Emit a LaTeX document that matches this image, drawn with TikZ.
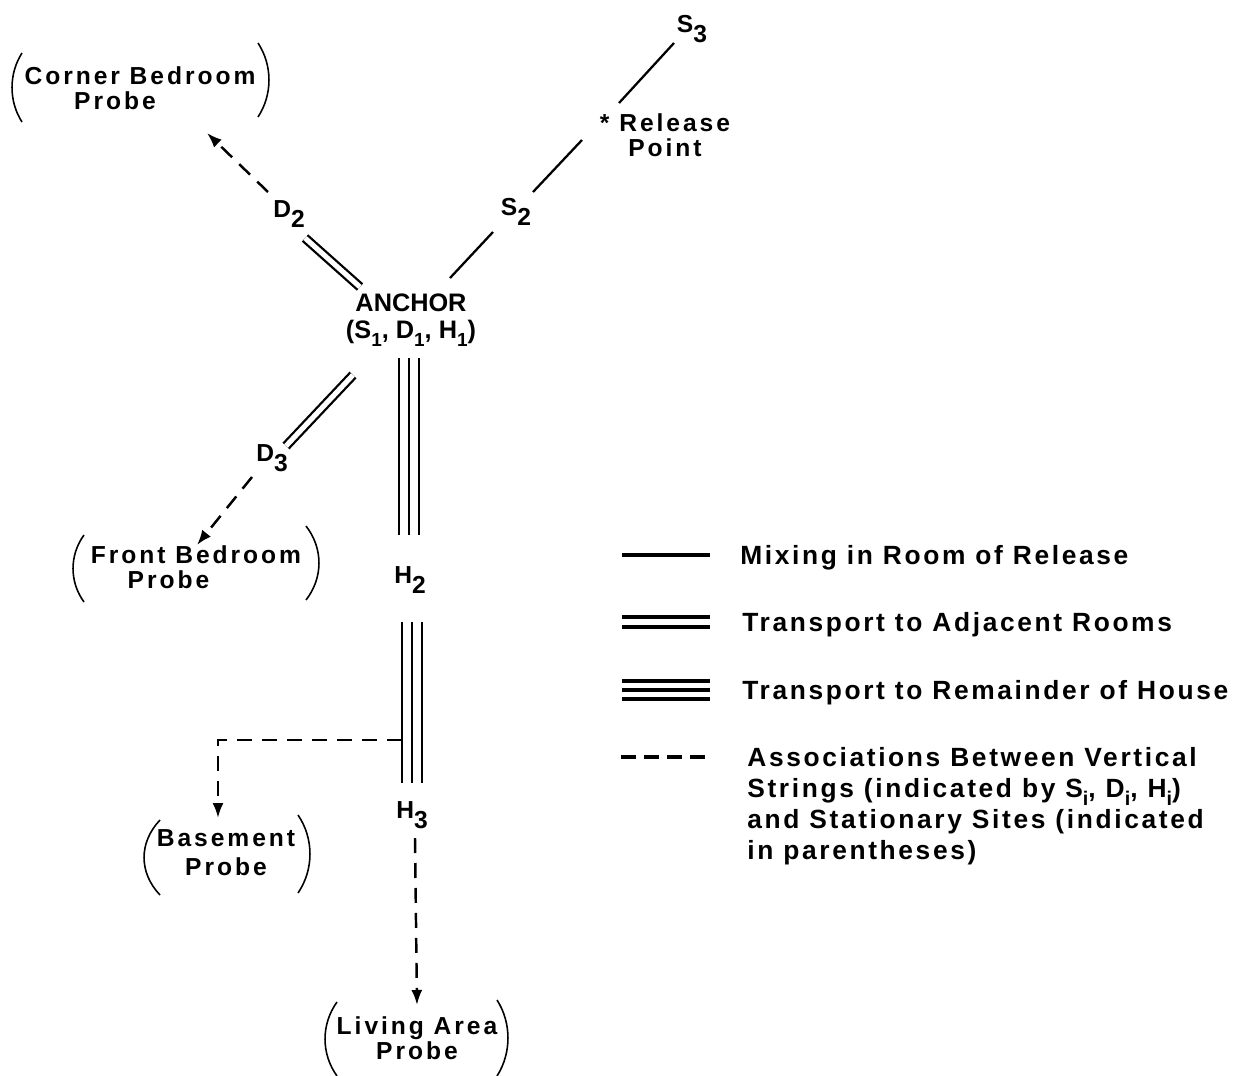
\documentclass[tikz,border=0pt]{standalone}
\usepackage{fontspec}
\setmainfont{Liberation Sans}
\newfontfamily\lblf[LetterSpace=12]{Liberation Sans}
\newfontfamily\lgdf[LetterSpace=10]{Liberation Sans}
\usetikzlibrary{arrows.meta}
\newcommand\dn[1]{\raisebox{-0.42em}{\scalebox{1.0}{#1}}}
\newcommand\ldn[1]{\raisebox{-0.3em}{\scalebox{0.75}{#1}}}
\newcommand\lpar[4]{\draw[parenline] (#1,#2) .. controls +({-#4*1.33},{(#3-#2)*0.3}) and +({-#4*1.33},{-(#3-#2)*0.3}) .. (#1,#3);}
\newcommand\rpar[4]{\draw[parenline] (#1,#2) .. controls +({#4*1.33},{(#3-#2)*0.3}) and +({#4*1.33},{-(#3-#2)*0.3}) .. (#1,#3);}
\begin{document}
\begin{tikzpicture}[x=0.02cm,y=-0.02cm,
  lbl/.style={font=\lblf\bfseries\fontsize{14pt}{14.4pt}\selectfont, inner sep=0pt, align=center},
  anc/.style={font=\bfseries\fontsize{14.4pt}{15.3pt}\selectfont, inner sep=0pt, align=center},
  lgd/.style={font=\lgdf\bfseries\fontsize{15pt}{17.6pt}\selectfont, inner sep=0pt, align=left},
  mix/.style={line width=1.3pt},
  adj/.style={double, double distance=2.9pt, line width=1.3pt},
  rem/.style={line width=1.3pt},
  assoc/.style={line width=1.4pt, dash pattern=on 0.3cm off 0.2cm},
  tip/.style={-{Latex[length=0.3cm,width=0.22cm]}},
  parenline/.style={line width=0.9pt},
  lgline/.style={line width=2pt}
]
\useasboundingbox[fill=white] (0,0) rectangle (1249,1076);

% probes
\node[lbl] (corner) at (140,88) {Corner Bedroom\\Probe\hspace*{1cm}};
\lpar{22}{53}{122}{10}
\rpar{258}{43}{117}{11}
\node[lbl] (front) at (196,567) {Front Bedroom\\Probe\hspace*{1.1cm}};
\lpar{84}{535}{602}{11}
\rpar{306}{526}{600}{13}
\node[lbl, align=center, font=\lblf\bfseries\fontsize{14pt}{16.5pt}\selectfont] (basement) at (226,853) {Basement\\Probe};
\lpar{160}{820}{895}{16}
\rpar{298}{815}{893}{12}
\node[lbl] (living) at (417,1038) {Living Area\\Probe};
\lpar{337}{1002}{1076}{12}
\rpar{497}{1000}{1076}{11}

% anchor and labels
\node[anc] (anchor) at (411,320) {ANCHOR\\(S\ldn{1}, D\ldn{1}, H\ldn{1})};
\node[lbl] (d2) at (289,214) {D\dn{2}};
\node[lbl] (s2) at (516,212) {S\dn{2}};
\node[lbl] (s3) at (692,29) {S\dn{3}};
\node[lbl] (d3) at (272,458) {D\dn{3}};
\node[lbl] (h2) at (410,580) {H\dn{2}};
\node[lbl] (h3) at (412,815) {H\dn{3}};
\node[lbl] (release) at (665,135) {* Release\\Point};

% S string
\coordinate (sa1) at (450,278); \coordinate (sa2) at (493,232);
\coordinate (sb1) at (533,192); \coordinate (sb2) at (582,140);
\coordinate (sc1) at (619,103); \coordinate (sc2) at (674,43);
\draw[mix] (sa1) -- (sa2);
\draw[mix] (sb1) -- (sb2);
\draw[mix] (sc1) -- (sc2);

% D strings
\coordinate (da1) at (360,287); \coordinate (da2) at (305,238);
\draw[adj] (da1) -- (da2);
\coordinate (db1) at (353,375); \coordinate (db2) at (286,446);
\draw[adj] (db1) -- (db2);
\coordinate (dd1) at (268,192); \coordinate (dd2) at (207,133);
\draw[assoc,tip] (dd1) -- (dd2);
\coordinate (de1) at (252,477); \coordinate (de2) at (197,545);
\draw[assoc,tip] (de1) -- (de2);

% H string
\coordinate (ha1) at (409,358); \coordinate (ha2) at (409,535);
\foreach \s in {-0.2cm,0cm,0.2cm}{\draw[rem] ([xshift=\s]ha1) -- ([xshift=\s]ha2);}
\coordinate (hb1) at (412,622); \coordinate (hb2) at (412,783);
\foreach \s in {-0.2cm,0cm,0.2cm}{\draw[rem] ([xshift=\s]hb1) -- ([xshift=\s]hb2);}
\coordinate (bj) at (402,740); \coordinate (bc) at (218,740); \coordinate (bt) at (218,818);
\draw[assoc,tip] (bj) -- (bc) -- (bt);
\coordinate (lv1) at (415,838); \coordinate (lv2) at (417,1005);
\draw[assoc,tip] (lv1) -- (lv2);

% legend
\coordinate (k1a) at (622,555); \coordinate (k1b) at (710,555);
\draw[lgline] (k1a) -- (k1b);
\node[lgd, anchor=base west] (t1) at (740,564) {Mixing in Room of Release};
\coordinate (k2a) at (622,622); \coordinate (k2b) at (710,622);
\draw[lgline, double, double distance=3.7pt] (k2a) -- (k2b);
\node[lgd, anchor=base west] (t2) at (742,631) {Transport to Adjacent Rooms};
\coordinate (k3a) at (622,690); \coordinate (k3b) at (710,690);
\foreach \s in {-0.18cm,0cm,0.18cm}{\draw[lgline] ([yshift=\s]k3a) -- ([yshift=\s]k3b);}
\node[lgd, anchor=base west] (t3) at (742,699) {Transport to Remainder of House};
\coordinate (k4a) at (621,757); \coordinate (k4b) at (710,757);
\draw[lgline, dash pattern=on 0.3cm off 0.16cm] (k4a) -- (k4b);
\node[lgd, anchor=west] (t4) at (747,806) {Associations Between Vertical\\Strings (indicated by S\ldn{i}, D\ldn{i}, H\ldn{i})\\and Stationary Sites (indicated\\in parentheses)};
\end{tikzpicture}
\end{document}
